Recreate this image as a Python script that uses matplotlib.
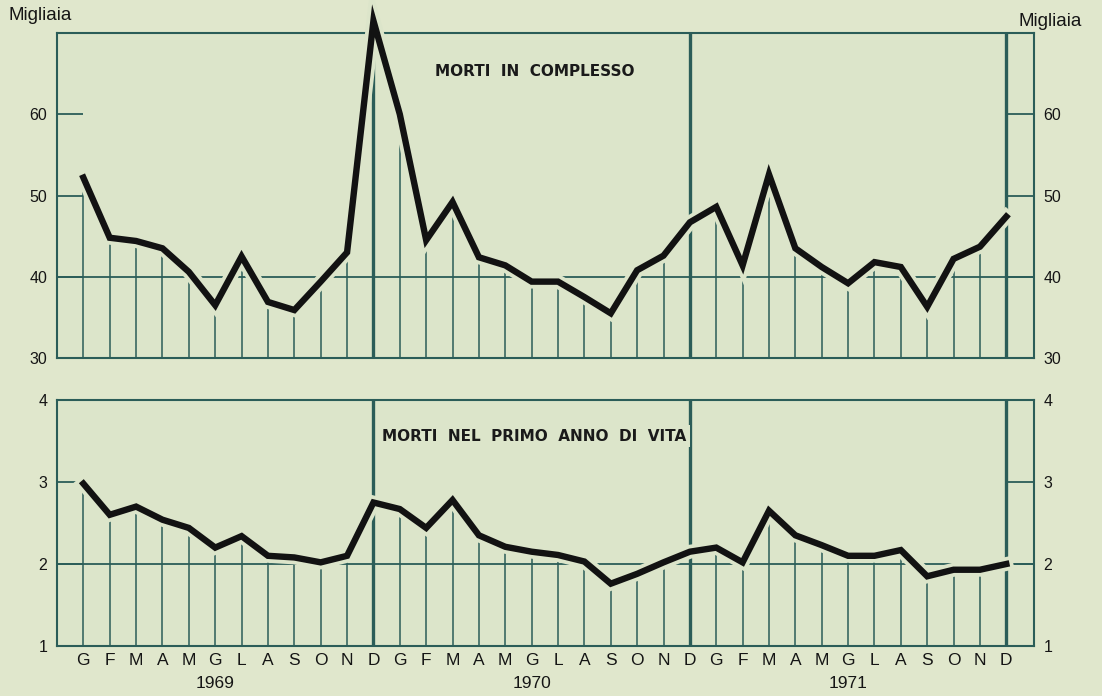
import matplotlib
matplotlib.use("Agg")
import matplotlib.pyplot as plt
import matplotlib.patheffects as pe
import numpy as np

# mesi (G F M A M G L A S O N D) per 1969, 1970, 1971
mesi = ["G", "F", "M", "A", "M", "G", "L", "A", "S", "O", "N", "D"] * 3
anni = ["1969", "1970", "1971"]

# morti in complesso (migliaia)
morti_tot = [52.2, 44.8, 44.4, 43.5, 40.6, 36.5, 42.5, 36.9, 35.9, 39.4, 43.0, 71.5,
             60.0, 44.5, 49.2, 42.4, 41.4, 39.4, 39.4, 37.5, 35.5, 40.8, 42.6, 46.7,
             48.6, 41.4, 52.6, 43.5, 41.2, 39.2, 41.8, 41.2, 36.3, 42.2, 43.7, 47.4]

# morti nel primo anno di vita (migliaia)
morti_inf = [2.98, 2.60, 2.70, 2.54, 2.44, 2.20, 2.34, 2.10, 2.08, 2.02, 2.10, 2.75,
             2.67, 2.44, 2.78, 2.35, 2.21, 2.15, 2.11, 2.03, 1.76, 1.88, 2.02, 2.15,
             2.20, 2.02, 2.65, 2.35, 2.23, 2.10, 2.10, 2.17, 1.85, 1.93, 1.93, 2.00]

bg = "#e0e7cc"
fondo = "#dce5ca"
verde = "#2b5d58"
nero = "#121212"

plt.rcParams["font.family"] = ["Liberation Sans", "DejaVu Sans"]

fig = plt.figure(figsize=(11.02, 6.96), dpi=100, facecolor=bg)
ax1 = fig.add_axes([57/1102, 1-358/696, 977/1102, 325/696])
ax2 = fig.add_axes([57/1102, 1-646/696, 977/1102, 246/696])

x = np.arange(len(mesi))
dic = [11, 23, 35]


def pannello(ax, y, ylim, ticks, griglia, titolo, ty):
    ax.set_facecolor(fondo)
    ax.set_xlim(-1, 36.05)
    ax.set_ylim(*ylim)
    for s in ax.spines.values():
        s.set_color(verde)
        s.set_linewidth(1.5)
    # linee verticali per ogni mese
    ax.vlines(x, ylim[0], y, color=verde, lw=1.1, zorder=1)
    ax.vlines(dic, ylim[0], ylim[1], color=verde, lw=2.4, zorder=2)
    ax.axhline(griglia, color=verde, lw=1.3, zorder=1)
    ax.plot(x, y, color=nero, lw=4.6, zorder=5, clip_on=False,
            solid_joinstyle="miter",
            path_effects=[pe.Stroke(linewidth=10, foreground=fondo), pe.Normal()])
    ax.set_yticks(ticks)
    ax.tick_params(axis="y", which="both", direction="in", length=19, width=1.3,
                   color=verde, left=True, right=True, labelleft=True,
                   labelright=True, labelsize=11.5, pad=7, labelcolor="#151515")
    ax.text(17.1, ty, titolo, ha="center", va="center", fontsize=11,
            fontweight="bold", family="DejaVu Sans", color="#1a1a1a", zorder=4,
            bbox=dict(boxstyle="square,pad=0.25", fc=fondo, ec="none"))


pannello(ax1, morti_tot, (30, 70), [30, 40, 50, 60], 40, "MORTI  IN  COMPLESSO", 65.3)
pannello(ax2, morti_inf, (1, 4), [1, 2, 3, 4], 2, "MORTI  NEL  PRIMO  ANNO  DI  VITA", 3.56)

ax1.set_xticks([])
ax2.set_xticks(x)
ax2.set_xticklabels(mesi, fontsize=12.5, color="#151515")
ax2.tick_params(axis="x", length=0, pad=5)

for i, a in enumerate(anni):
    ax2.text(5 + 12 * i, -0.12, a, transform=ax2.get_xaxis_transform(),
             ha="center", va="top", fontsize=12.5, color="#151515")

fig.text(8/1102, 1-16/696, "Migliaia", ha="left", va="center", fontsize=13.5,
         color="#151515")
fig.text(1018/1102, 1-21/696, "Migliaia", ha="left", va="center", fontsize=13.5,
         color="#151515")

fig.savefig("out.png", dpi=100, facecolor=bg)
